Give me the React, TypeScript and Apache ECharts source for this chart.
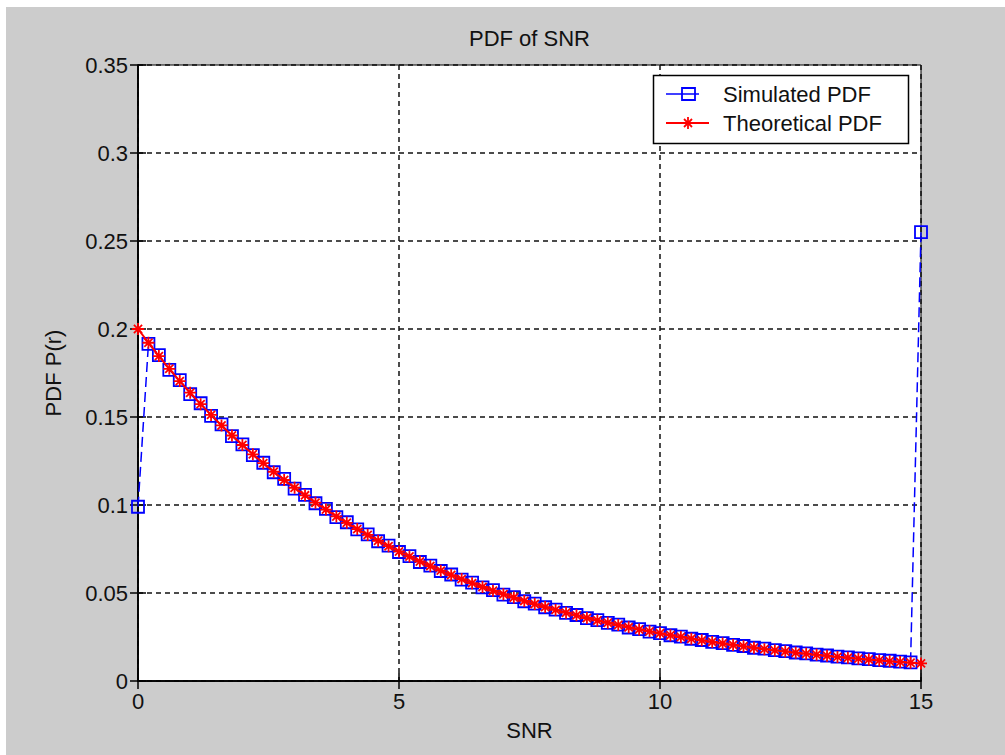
import React, { useEffect, useRef } from "react";
import * as echarts from "echarts";

const snr: number[] = [
  0, 0.2, 0.4, 0.6, 0.8, 1, 1.2, 1.4, 1.6, 1.8, 2, 2.2, 2.4, 2.6, 2.8, 3, 3.2, 3.4, 3.6, 3.8,
  4, 4.2, 4.4, 4.6, 4.8, 5, 5.2, 5.4, 5.6, 5.8, 6, 6.2, 6.4, 6.6, 6.8, 7, 7.2, 7.4, 7.6, 7.8,
  8, 8.2, 8.4, 8.6, 8.8, 9, 9.2, 9.4, 9.6, 9.8, 10, 10.2, 10.4, 10.6, 10.8, 11, 11.2, 11.4, 11.6, 11.8,
  12, 12.2, 12.4, 12.6, 12.8, 13, 13.2, 13.4, 13.6, 13.8, 14, 14.2, 14.4, 14.6, 14.8, 15,
];

const simulatedPdf: number[] = [
  0.099, 0.1915, 0.1852, 0.1768, 0.1709, 0.163, 0.1578, 0.1506, 0.1458, 0.1391,
  0.1345, 0.1283, 0.124, 0.1186, 0.1148, 0.1093, 0.1058, 0.101, 0.0978, 0.0931,
  0.0902, 0.0861, 0.0833, 0.0794, 0.0769, 0.0733, 0.071, 0.0676, 0.0655, 0.0625,
  0.0605, 0.0576, 0.0559, 0.0532, 0.0516, 0.0491, 0.0476, 0.0453, 0.044, 0.0419,
  0.0406, 0.0387, 0.0375, 0.0357, 0.0346, 0.033, 0.032, 0.0304, 0.0295, 0.0281,
  0.0272, 0.026, 0.0252, 0.024, 0.0233, 0.0222, 0.0215, 0.0205, 0.0199, 0.0189,
  0.0184, 0.0175, 0.017, 0.0162, 0.0157, 0.015, 0.0145, 0.0139, 0.0134, 0.0128,
  0.0124, 0.0119, 0.0115, 0.011, 0.0106, 0.255,
];

const theoreticalPdf: number[] = [
  0.2, 0.1922, 0.1846, 0.1774, 0.1704, 0.1638, 0.1573, 0.1512, 0.1452, 0.1395,
  0.1341, 0.1288, 0.1238, 0.1189, 0.1142, 0.1098, 0.1055, 0.1013, 0.0974, 0.0935,
  0.0899, 0.0863, 0.083, 0.0797, 0.0766, 0.0736, 0.0707, 0.0679, 0.0653, 0.0627,
  0.0602, 0.0579, 0.0556, 0.0534, 0.0513, 0.0493, 0.0474, 0.0455, 0.0437, 0.042,
  0.0404, 0.0388, 0.0373, 0.0358, 0.0344, 0.0331, 0.0318, 0.0305, 0.0293, 0.0282,
  0.0271, 0.026, 0.025, 0.024, 0.0231, 0.0222, 0.0213, 0.0205, 0.0197, 0.0189,
  0.0181, 0.0174, 0.0168, 0.0161, 0.0155, 0.0149, 0.0143, 0.0137, 0.0132, 0.0127,
  0.0122, 0.0117, 0.0112, 0.0108, 0.0104, 0.01,
];

const xTicks = { min: 0, max: 15, interval: 5 };
const yTicks = { min: 0, max: 0.35, interval: 0.05 };

const titleText = "PDF of SNR";
const xName = "SNR";
const yName = "PDF P(r)";
const seriesNames = ["Simulated PDF", "Theoretical PDF"];

const FONT = "'Liberation Sans', Arial, sans-serif";
const STAR = "path://M0,5L10,5M5,0L5,10M1.6,1.6L8.4,8.4M1.6,8.4L8.4,1.6";

export default function App() {
  const ref = useRef<HTMLDivElement>(null);
  useEffect(() => {
    document.body.style.margin = "0";
    if (!ref.current) return;
    const chart = echarts.init(ref.current, null, { renderer: "svg" });
    const gridLeft = 138, gridTop = 65, gridRight = 84, gridBottom = 74;
    const splitLine = { show: true, lineStyle: { color: "#111", type: [5, 4] as any, width: 1.5 } };
    const label = { color: "#111", fontSize: 22, fontFamily: FONT };
    const simData = snr.map((x, i) => [x, simulatedPdf[i]]);
    const thData = snr.map((x, i) => [x, theoreticalPdf[i]]);
    const lx = 653, ly = 75, lw = 255, lh = 68;
    chart.setOption({
      animation: false,
      backgroundColor: "transparent",
      textStyle: { fontFamily: FONT },
      grid: {
        left: gridLeft, top: gridTop, right: gridRight, bottom: gridBottom,
        show: true, backgroundColor: "#fff", borderColor: "#000", borderWidth: 1,
      },
      xAxis: [
        {
          type: "value", ...xTicks, position: "bottom",
          name: xName, nameLocation: "middle", nameGap: 38,
          nameTextStyle: { ...label },
          axisLine: { show: true, lineStyle: { color: "#000", width: 1.5 } },
          axisTick: { show: true, inside: true, length: 8, lineStyle: { color: "#000", width: 1.5 } },
          axisLabel: { ...label, margin: 9 },
          splitLine,
        },
        {
          type: "value", ...xTicks, position: "top",
          axisLine: { show: true, lineStyle: { color: "#000", width: 1.5 } },
          axisTick: { show: true, inside: true, length: 8, lineStyle: { color: "#000", width: 1.5 } },
          axisLabel: { show: false },
          splitLine: { show: false },
        },
      ],
      yAxis: [
        {
          type: "value", ...yTicks, position: "left",
          name: yName, nameLocation: "middle", nameGap: 74,
          nameTextStyle: { ...label },
          axisLine: { show: true, lineStyle: { color: "#000", width: 1.5 } },
          axisTick: { show: true, inside: true, length: 8, lineStyle: { color: "#000", width: 1.5 } },
          axisLabel: {
            ...label, margin: 10,
            formatter: (v: number) => String(parseFloat(v.toFixed(2))),
          },
          splitLine,
        },
        {
          type: "value", ...yTicks, position: "right",
          axisLine: { show: true, lineStyle: { color: "#000", width: 1.5 } },
          axisTick: { show: true, inside: true, length: 8, lineStyle: { color: "#000", width: 1.5 } },
          axisLabel: { show: false },
          splitLine: { show: false },
        },
      ],
      series: [
        {
          name: seriesNames[0], type: "line", data: simData,
          xAxisIndex: 0, yAxisIndex: 0,
          lineStyle: { color: "#0000ff", width: 1.5, type: [10, 5] as any },
          symbol: "rect", symbolSize: 12,
          itemStyle: { color: "transparent", borderColor: "#0000ff", borderWidth: 1.8 },
          z: 3,
        },
        {
          name: seriesNames[1], type: "line", data: thData,
          xAxisIndex: 0, yAxisIndex: 0,
          lineStyle: { color: "#ff0000", width: 2 },
          symbol: STAR, symbolSize: 12,
          itemStyle: { color: "transparent", borderColor: "#ff0000", borderWidth: 1.8 },
          z: 4,
        },
      ],
      graphic: [
        {
          type: "text", x: (gridLeft + 1005 - gridRight) / 2, y: 38,
          style: { text: titleText, fill: "#111", font: `22px ${FONT}`, textAlign: "center", textVerticalAlign: "middle" },
        },
        {
          type: "rect", shape: { x: lx + 0.5, y: ly + 0.5, width: lw, height: lh },
          style: { fill: "#fff", stroke: "#000", lineWidth: 1.5 }, z: 10,
        },
        {
          type: "line", shape: { x1: 666, y1: 94, x2: 699, y2: 94 },
          style: { stroke: "#0000ff", lineWidth: 1.5 }, z: 11,
        },
        {
          type: "rect", shape: { x: 682, y: 88, width: 13, height: 12 },
          style: { fill: "none", stroke: "#0000ff", lineWidth: 1.8 }, z: 11,
        },
        {
          type: "text", x: 723, y: 94, z: 11,
          style: { text: seriesNames[0], fill: "#111", font: `22px ${FONT}`, textVerticalAlign: "middle" },
        },
        {
          type: "line", shape: { x1: 666, y1: 123, x2: 709, y2: 123 },
          style: { stroke: "#ff0000", lineWidth: 1.8 }, z: 11,
        },
        {
          type: "line", shape: { x1: 688, y1: 117, x2: 688, y2: 129 },
          style: { stroke: "#ff0000", lineWidth: 1.8 }, z: 11,
        },
        {
          type: "line", shape: { x1: 684, y1: 119, x2: 692, y2: 127 },
          style: { stroke: "#ff0000", lineWidth: 1.8 }, z: 11,
        },
        {
          type: "line", shape: { x1: 684, y1: 127, x2: 692, y2: 119 },
          style: { stroke: "#ff0000", lineWidth: 1.8 }, z: 11,
        },
        {
          type: "text", x: 723, y: 123, z: 11,
          style: { text: seriesNames[1], fill: "#111", font: `22px ${FONT}`, textVerticalAlign: "middle" },
        },
      ],
    });
    return () => chart.dispose();
  }, []);
  return (
    <div style={{ position: "relative", width: 1005, height: 755, background: "#fff", overflow: "hidden" }}>
      <div style={{ position: "absolute", left: 6, top: 7, right: 0, bottom: 0, background: "#cccccc" }} />
      <div ref={ref} style={{ position: "absolute", left: 0, top: 0, width: 1005, height: 755 }} />
    </div>
  );
}
